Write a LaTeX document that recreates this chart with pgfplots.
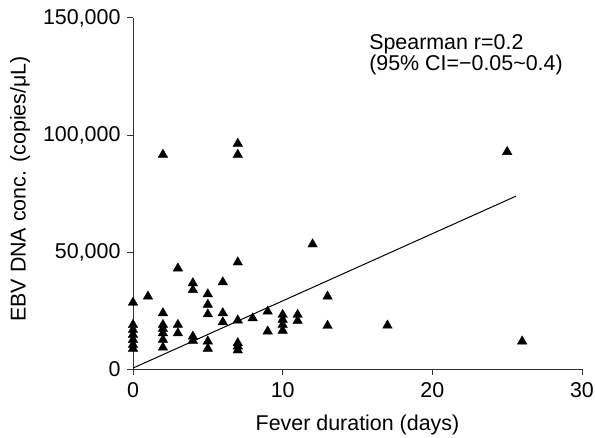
\documentclass[border=0pt]{standalone}
\usepackage{pgfplots}
\pgfplotsset{compat=1.18}
\usepackage{fontspec}
\setmainfont{Liberation Sans}
\begin{document}
\begin{tikzpicture}
\begin{axis}[
  at={(0,0)}, anchor=south west,
  scale only axis,
  width=449bp, height=351bp,
  xmin=0, xmax=30, ymin=0, ymax=150000,
  axis lines*=left,
  axis line style={line width=1pt, color=black!80},
  xtick={0,10,20,30}, ytick={0,50000,100000,150000},
  xticklabels={0,10,20,30},
  yticklabels={0,{50,000},{100,000},{150,000}},
  tick align=outside, major tick length=6bp,
  tick style={line width=1pt, color=black!80},
  scaled y ticks=false,
  tick label style={font=\fontsize{21.5}{24}\selectfont},
  xticklabel style={yshift=-4bp},
  yticklabel style={xshift=-3bp},
  clip=false,
]
\addplot[only marks, mark=triangle*, mark size=5.5bp, mark options={fill=black, draw=black}] coordinates {
(0,28400) (0,18900) (0,16800) (0,14700) (0,12500) (0,10400) (0,8700)
(1,31000)
(2,91600) (2,23900) (2,18900) (2,17200) (2,15300) (2,12500) (2,9200)
(3,43000) (3,18900) (3,15300)
(4,36700) (4,33800) (4,13900) (4,12100)
(5,32000) (5,27500) (5,23400) (5,11800) (5,8700)
(6,37100) (6,23900) (6,20000)
(7,96300) (7,91600) (7,45600) (7,20800) (7,11100) (7,9700) (7,8000)
(8,21700)
(9,24600) (9,16100)
(10,23200) (10,21100) (10,18900) (10,16400)
(11,23200) (11,20600)
(12,53300)
(13,31000) (13,18500)
(17,18600)
(25,92800)
(26,11800)
};
\addplot[black, line width=1pt] coordinates {(0,400) (25.6,73900)};
\node[anchor=west, align=left, font=\fontsize{21.5}{19}\selectfont] at (axis cs:15.55,134300) {Spearman r=0.2\\(95\% CI=−0.05\textasciitilde 0.4)};
\end{axis}
\node[font=\fontsize{21.5}{24}\selectfont, anchor=center] at (224.5bp,-56bp) {Fever duration (days)};
\node[font=\fontsize{21.5}{24}\selectfont, anchor=center, rotate=90] at (-113bp,180bp) {EBV DNA conc. (copies/μL)};
\pgfresetboundingbox
\path[use as bounding box] (-133bp,-69bp) rectangle (462bp,369bp);
\end{tikzpicture}
\end{document}
